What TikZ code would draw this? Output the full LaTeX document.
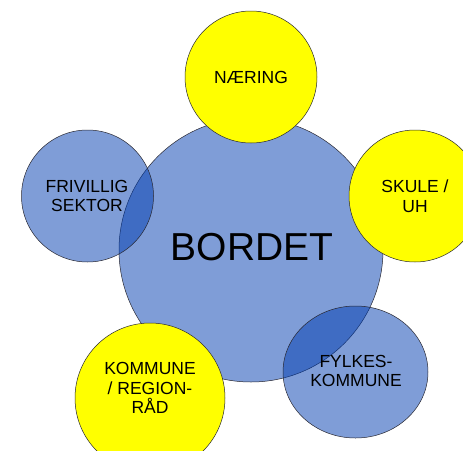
\documentclass[tikz,border=0pt]{standalone}
\usepackage{fontspec}
\setmainfont{Liberation Sans}
\definecolor{bordblue}{RGB}{0,61,177}
\definecolor{bordyellow}{RGB}{255,255,0}
\definecolor{edge}{RGB}{40,40,50}
\begin{document}
\begin{tikzpicture}[x=1pt,y=-1pt,
  bluecirc/.style={fill=bordblue,fill opacity=0.5,draw=edge,line width=0.5pt},
  yellowcirc/.style={fill=bordyellow,draw=edge,line width=0.5pt},
  lab/.style={font=\fontsize{17.5}{19.5}\selectfont,align=center,text=black,inner sep=0pt},
  bigl/.style={font=\fontsize{39}{44}\selectfont,text=black,inner sep=0pt}]
\useasboundingbox (0,0) rectangle (463,450);
\clip (0,0) rectangle (463,450);
% main circle
\fill[white] (0,0) rectangle (463,450);
\path[bluecirc] (251,250) circle[radius=132];
% blue satellites
\path[bluecirc] (87.5,196) circle[radius=66];
\path[bluecirc] (355.5,372) ellipse[x radius=72.5,y radius=66];
% yellow satellites
\path[yellowcirc] (251,77) circle[radius=66];
\path[yellowcirc] (415,196) circle[radius=66];
\path[yellowcirc] (150,398) circle[radius=75];
% labels
\node[bigl] (bordet) at (252,247) {BORDET};
\node[lab] (naering) at (251,77) {NÆRING};
\node[lab] (skule) at (415,196) {SKULE /\\UH};
\node[lab] (frivillig) at (87,196) {FRIVILLIG\\SEKTOR};
\node[lab] (fylkes) at (356,371) {FYLKES-\\KOMMUNE};
\node[lab] (kommune) at (150,388) {KOMMUNE\\/ REGION-\\RÅD};
\end{tikzpicture}
\end{document}
